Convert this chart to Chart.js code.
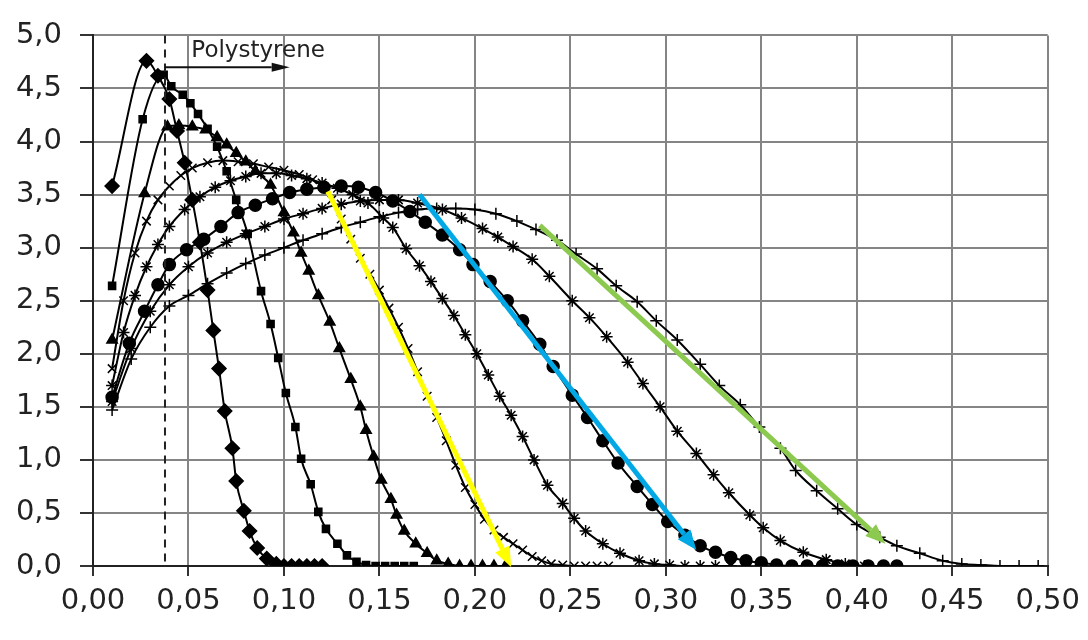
<!DOCTYPE html>
<html>
<head>
<meta charset="utf-8">
<script src="https://cdn.jsdelivr.net/npm/chart.js@4.4.1/dist/chart.umd.min.js"></script>
<style>
  html, body { margin: 0; padding: 0; background: #fff; }
  #wrap { width: 1088px; height: 640px; position: relative; }
</style>
</head>
<body>
<div id="wrap"><canvas id="chart"></canvas></div>
<script>
// ---- data ----
const diamondX = [0.010, 0.028, 0.034, 0.040, 0.044, 0.048, 0.052, 0.056, 0.060, 0.063, 0.066, 0.069, 0.073, 0.075, 0.079, 0.082, 0.086, 0.091, 0.096, 0.100, 0.104, 0.108, 0.112, 0.116, 0.120];
const diamondY = [3.58, 4.76, 4.62, 4.40, 4.10, 3.80, 3.45, 3.05, 2.60, 2.22, 1.86, 1.46, 1.11, 0.80, 0.52, 0.33, 0.17, 0.07, 0.02, 0.0, 0.0, 0.0, 0.0, 0.0, 0.0];

const squareX = [0.010, 0.026, 0.037, 0.041, 0.047, 0.051, 0.055, 0.060, 0.065, 0.070, 0.075, 0.081, 0.088, 0.093, 0.097, 0.101, 0.106, 0.109, 0.114, 0.118, 0.122, 0.128, 0.133, 0.138, 0.143, 0.148, 0.153, 0.158, 0.163, 0.168];
const squareY = [2.64, 4.21, 4.63, 4.52, 4.44, 4.36, 4.26, 4.12, 3.95, 3.72, 3.45, 3.13, 2.59, 2.28, 1.96, 1.63, 1.31, 1.01, 0.77, 0.51, 0.35, 0.21, 0.10, 0.04, 0.01, 0, 0, 0, 0, 0];

const triangleX = [0.010, 0.027, 0.039, 0.045, 0.052, 0.059, 0.065, 0.070, 0.075, 0.080, 0.085, 0.093, 0.100, 0.105, 0.109, 0.113, 0.118, 0.124, 0.129, 0.135, 0.140, 0.143, 0.147, 0.151, 0.156, 0.159, 0.163, 0.169, 0.175, 0.180, 0.186, 0.192, 0.198, 0.204, 0.210, 0.216];
const triangleY = [2.13, 3.51, 4.14, 4.15, 4.14, 4.11, 4.04, 3.97, 3.89, 3.81, 3.72, 3.59, 3.33, 3.14, 2.95, 2.78, 2.55, 2.30, 2.05, 1.76, 1.50, 1.28, 1.03, 0.81, 0.63, 0.48, 0.33, 0.21, 0.12, 0.05, 0.02, 0, 0, 0, 0, 0];

const crossX = [0.010, 0.016, 0.022, 0.028, 0.034, 0.040, 0.046, 0.052, 0.060, 0.068, 0.076, 0.084, 0.092, 0.100, 0.108, 0.115, 0.120, 0.125, 0.130, 0.135, 0.140, 0.145, 0.150, 0.155, 0.160, 0.165, 0.170, 0.175, 0.180, 0.185, 0.190, 0.195, 0.200, 0.205, 0.210, 0.215, 0.220, 0.225, 0.230, 0.235, 0.240, 0.246, 0.252, 0.258, 0.264, 0.270];
const crossY = [1.86, 2.50, 2.95, 3.25, 3.45, 3.58, 3.68, 3.75, 3.80, 3.82, 3.81, 3.79, 3.76, 3.73, 3.69, 3.64, 3.58, 3.45, 3.27, 3.08, 2.90, 2.75, 2.60, 2.43, 2.25, 2.05, 1.83, 1.60, 1.40, 1.18, 0.95, 0.74, 0.58, 0.44, 0.34, 0.27, 0.21, 0.15, 0.09, 0.05, 0.02, 0.01, 0, 0, 0, 0];

const starX = [0.010, 0.016, 0.022, 0.028, 0.034, 0.040, 0.048, 0.056, 0.064, 0.072, 0.080, 0.088, 0.096, 0.104, 0.112, 0.120, 0.128, 0.136, 0.144, 0.152, 0.157, 0.164, 0.171, 0.177, 0.183, 0.189, 0.195, 0.201, 0.207, 0.213, 0.219, 0.225, 0.231, 0.238, 0.246, 0.252, 0.258, 0.267, 0.276, 0.286, 0.294, 0.302, 0.310, 0.318, 0.326, 0.334];
const starY = [1.70, 2.20, 2.55, 2.82, 3.03, 3.20, 3.36, 3.48, 3.57, 3.63, 3.67, 3.70, 3.70, 3.68, 3.65, 3.61, 3.56, 3.50, 3.42, 3.28, 3.19, 2.99, 2.83, 2.68, 2.52, 2.36, 2.18, 2.00, 1.80, 1.60, 1.42, 1.22, 1.00, 0.76, 0.59, 0.45, 0.33, 0.21, 0.12, 0.05, 0.02, 0.01, 0, 0, 0, 0];

const circleX = [0.010, 0.019, 0.027, 0.034, 0.040, 0.049, 0.058, 0.067, 0.076, 0.085, 0.094, 0.103, 0.112, 0.121, 0.130, 0.139, 0.148, 0.157, 0.166, 0.174, 0.183, 0.192, 0.199, 0.208, 0.217, 0.225, 0.234, 0.241, 0.251, 0.259, 0.267, 0.275, 0.285, 0.293, 0.301, 0.310, 0.318, 0.326, 0.334, 0.342, 0.350, 0.358, 0.366, 0.374, 0.382, 0.390, 0.398, 0.406, 0.414, 0.421];
const circleY = [1.59, 2.10, 2.40, 2.65, 2.84, 2.98, 3.08, 3.20, 3.33, 3.40, 3.46, 3.52, 3.55, 3.57, 3.58, 3.57, 3.52, 3.44, 3.34, 3.24, 3.12, 2.98, 2.84, 2.68, 2.50, 2.31, 2.09, 1.88, 1.61, 1.40, 1.18, 0.97, 0.75, 0.58, 0.42, 0.29, 0.19, 0.13, 0.08, 0.05, 0.03, 0.01, 0, 0, 0, 0, 0, 0, 0, 0];

const star2X = [0.010, 0.020, 0.030, 0.040, 0.050, 0.060, 0.070, 0.080, 0.090, 0.100, 0.110, 0.120, 0.130, 0.140, 0.150, 0.160, 0.170, 0.183, 0.193, 0.204, 0.212, 0.220, 0.230, 0.239, 0.251, 0.260, 0.269, 0.280, 0.288, 0.297, 0.306, 0.316, 0.325, 0.333, 0.344, 0.351, 0.360, 0.372, 0.384, 0.394, 0.404];
const star2Y = [1.55, 2.05, 2.40, 2.65, 2.82, 2.95, 3.05, 3.13, 3.20, 3.27, 3.32, 3.37, 3.41, 3.44, 3.45, 3.45, 3.42, 3.36, 3.28, 3.18, 3.10, 3.01, 2.89, 2.73, 2.50, 2.34, 2.16, 1.92, 1.72, 1.50, 1.27, 1.06, 0.86, 0.69, 0.48, 0.36, 0.24, 0.13, 0.06, 0.02, 0];

const plusX = [0.010, 0.020, 0.030, 0.040, 0.050, 0.060, 0.070, 0.080, 0.090, 0.100, 0.110, 0.120, 0.130, 0.140, 0.150, 0.160, 0.170, 0.180, 0.190, 0.200, 0.211, 0.222, 0.232, 0.243, 0.253, 0.264, 0.274, 0.285, 0.295, 0.306, 0.318, 0.328, 0.339, 0.349, 0.360, 0.368, 0.379, 0.390, 0.400, 0.412, 0.421, 0.433, 0.445, 0.455, 0.465, 0.475, 0.485, 0.495];
const plusY = [1.47, 1.95, 2.25, 2.45, 2.55, 2.66, 2.76, 2.85, 2.93, 3.00, 3.07, 3.13, 3.19, 3.24, 3.29, 3.33, 3.36, 3.37, 3.37, 3.36, 3.32, 3.25, 3.17, 3.07, 2.94, 2.80, 2.64, 2.49, 2.31, 2.13, 1.90, 1.70, 1.52, 1.31, 1.11, 0.90, 0.71, 0.54, 0.39, 0.27, 0.19, 0.12, 0.05, 0.02, 0.01, 0, 0, 0];

// annotations (data coordinates)
const polystyreneLineX = 0.0377;
const polystyreneArrow = [0.0377, 4.70, 0.103, 4.70];
const polystyreneLabel = ['Polystyrene', 0.0515, 4.8];
const yellowArrow = [0.123, 3.53, 0.219, -0.01];
const blueArrow = [0.171, 3.50, 0.316, 0.15];
const greenArrow = [0.234, 3.21, 0.415, 0.21];

// ---- helpers ----
const toPoints = (xs, ys) => xs.map((x, i) => ({ x: x, y: ys[i] }));
const fmt = (v, d) => v.toFixed(d).replace('.', ',');

function series(xs, ys, style, radius) {
    return {
        data: toPoints(xs, ys),
        borderColor: '#000',
        backgroundColor: '#000',
        borderWidth: 2,
        pointStyle: style,
        pointRadius: radius,
        pointBorderColor: '#000',
        pointBackgroundColor: '#000',
        pointBorderWidth: 1.5,
        cubicInterpolationMode: 'monotone',
        fill: false
    };
}

function drawArrow(ctx, x1, y1, x2, y2, color, width, head, headW) {
    const ang = Math.atan2(y2 - y1, x2 - x1);
    const bx = x2 - head * Math.cos(ang);
    const by = y2 - head * Math.sin(ang);
    ctx.save();
    ctx.strokeStyle = color;
    ctx.fillStyle = color;
    ctx.lineWidth = width;
    ctx.beginPath();
    ctx.moveTo(x1, y1);
    ctx.lineTo(bx, by);
    ctx.stroke();
    ctx.beginPath();
    ctx.moveTo(x2, y2);
    ctx.lineTo(bx + headW / 2 * Math.sin(ang), by - headW / 2 * Math.cos(ang));
    ctx.lineTo(bx - headW / 2 * Math.sin(ang), by + headW / 2 * Math.cos(ang));
    ctx.closePath();
    ctx.fill();
    ctx.restore();
}

// dashed marker line, label and coloured arrows
const annotations = {
    id: 'annotations',
    afterDatasetsDraw(chart) {
        const { ctx, scales: { x, y } } = chart;
        const px = v => x.getPixelForValue(v);
        const py = v => y.getPixelForValue(v);

        ctx.save();
        ctx.strokeStyle = '#222';
        ctx.lineWidth = 2;
        ctx.setLineDash([8, 6]);
        ctx.beginPath();
        ctx.moveTo(px(polystyreneLineX), py(5));
        ctx.lineTo(px(polystyreneLineX), py(0));
        ctx.stroke();
        ctx.restore();

        const a = polystyreneArrow;
        drawArrow(ctx, px(a[0]), py(a[1]), px(a[2]), py(a[3]), '#111', 2, 18, 9);

        ctx.save();
        ctx.fillStyle = '#222';
        ctx.font = '23px "DejaVu Sans", Verdana, sans-serif';
        ctx.textBaseline = 'alphabetic';
        ctx.fillText(polystyreneLabel[0], px(polystyreneLabel[1]), py(polystyreneLabel[2]));
        ctx.restore();

        [[yellowArrow, '#ffff00'], [blueArrow, '#00a9e6'], [greenArrow, '#8cc94f']].forEach(([v, c]) => {
            drawArrow(ctx, px(v[0]), py(v[1]), px(v[2]), py(v[3]), c, 5, 20, 16);
        });
    }
};

const tickFont = { family: '"DejaVu Sans", Verdana, sans-serif', size: 29 };

new Chart(document.getElementById('chart').getContext('2d'), {
    type: 'line',
    data: {
        datasets: [
            series(diamondX, diamondY, 'rectRot', 7),
            series(squareX, squareY, 'rect', 5),
            series(triangleX, triangleY, 'triangle', 6),
            series(crossX, crossY, 'crossRot', 6),
            series(starX, starY, 'star', 6),
            series(circleX, circleY, 'circle', 6),
            series(star2X, star2Y, 'star', 6),
            series(plusX, plusY, 'cross', 6)
        ]
    },
    options: {
        responsive: true,
        maintainAspectRatio: false,
        animation: false,
        layout: { padding: { top: 19, right: 40, left: 0, bottom: 0 } },
        plugins: {
            legend: { display: false },
            tooltip: { enabled: false }
        },
        scales: {
            x: {
                type: 'linear',
                min: 0,
                max: 0.5,
                afterFit: s => { s.height = 74; },
                ticks: {
                    stepSize: 0.05,
                    color: '#222',
                    font: tickFont,
                    padding: 8,
                    maxRotation: 0,
                    callback: v => fmt(v, 2)
                },
                grid: { color: '#858585', lineWidth: 2, tickLength: 10, tickColor: '#333' },
                border: { color: '#222', width: 2 }
            },
            y: {
                min: 0,
                max: 5,
                afterFit: s => { s.width = 93; },
                ticks: {
                    stepSize: 0.5,
                    color: '#222',
                    font: tickFont,
                    padding: 18,
                    callback: v => fmt(v, 1)
                },
                grid: { color: '#858585', lineWidth: 2, tickLength: 13, tickColor: '#333' },
                border: { color: '#222', width: 2 }
            }
        }
    },
    plugins: [annotations]
});
</script>
</body>
</html>
